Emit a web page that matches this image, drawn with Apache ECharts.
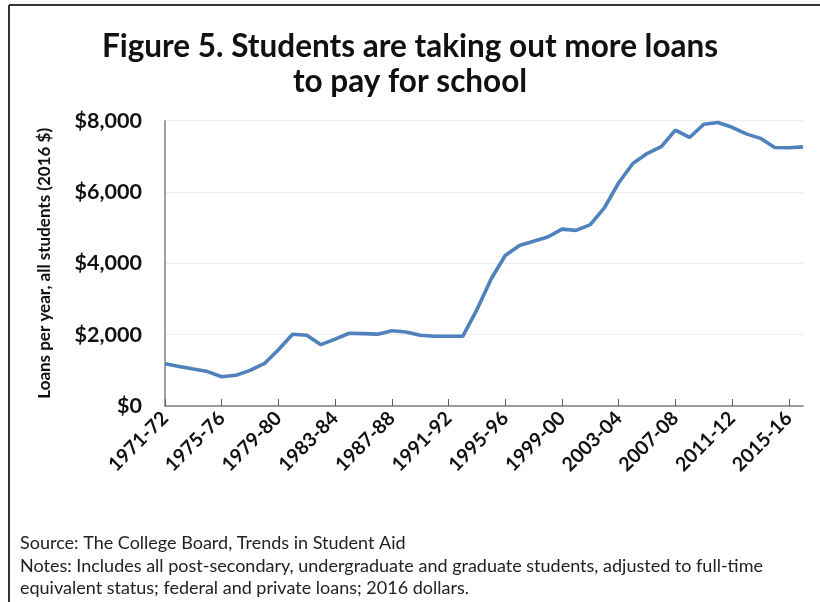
<!DOCTYPE html>
<html>
<head>
<meta charset="utf-8">
<script src="https://cdn.jsdelivr.net/npm/echarts@6/dist/echarts.min.js"></script>
<style>
  html, body { margin: 0; padding: 0; background: #fff; }
  #chart { width: 820px; height: 602px; }
</style>
</head>
<body>
<div id="chart"></div>
<script>
// Academic years 1971-72 through 2016-17
const years = [
  '1971-72','1972-73','1973-74','1974-75','1975-76','1976-77','1977-78','1978-79',
  '1979-80','1980-81','1981-82','1982-83','1983-84','1984-85','1985-86','1986-87',
  '1987-88','1988-89','1989-90','1990-91','1991-92','1992-93','1993-94','1994-95',
  '1995-96','1996-97','1997-98','1998-99','1999-00','2000-01','2001-02','2002-03',
  '2003-04','2004-05','2005-06','2006-07','2007-08','2008-09','2009-10','2010-11',
  '2011-12','2012-13','2013-14','2014-15','2015-16','2016-17'
];

// Loans per year per student, 2016 dollars
const loansPerStudent = [
  1185, 1110, 1035, 965, 820, 860, 1000, 1185,
  1575, 2010, 1985, 1720, 1875, 2040, 2030, 2015,
  2110, 2075, 1985, 1955, 1955, 1955, 2700, 3560,
  4220, 4500, 4620, 4740, 4960, 4925, 5085, 5560,
  6260, 6800, 7080, 7270, 7735, 7530, 7900, 7950,
  7815, 7630, 7505, 7250, 7240, 7265
];

const yTicks = [0, 2000, 4000, 6000, 8000];

const FONT = 'Lato';

const chart = echarts.init(document.getElementById('chart'), null, { renderer: 'canvas' });

chart.setOption({
  backgroundColor: '#ffffff',
  animation: false,
  title: {
    text: 'Figure 5. Students are taking out more loans\nto pay for school',
    left: 'center',
    top: 24,
    textStyle: {
      fontFamily: FONT,
      fontWeight: 'bold',
      fontSize: 31.5,
      lineHeight: 35,
      color: '#111'
    }
  },
  grid: {
    left: 165,
    right: 17,
    top: 120.7,
    bottom: 196,
    containLabel: false
  },
  xAxis: {
    type: 'category',
    data: years,
    boundaryGap: false,
    axisLine: { lineStyle: { color: '#808080', width: 1.5 } },
    axisTick: {
      show: true,
      inside: true,
      length: 7,
      interval: 3,
      lineStyle: { color: '#606060', width: 1 }
    },
    axisLabel: {
      interval: 3,
      rotate: 45,
      margin: 9,
      fontFamily: FONT,
      fontWeight: 'bold',
      fontSize: 19.5,
      color: '#111'
    },
    splitLine: { show: false }
  },
  yAxis: {
    type: 'value',
    min: yTicks[0],
    max: yTicks[yTicks.length - 1],
    interval: 2000,
    name: 'Loans per year, all students (2016 $)',
    nameLocation: 'middle',
    nameGap: 112,
    nameRotate: 90,
    nameTextStyle: {
      fontFamily: FONT,
      fontWeight: 'bold',
      fontSize: 17,
      color: '#111'
    },
    axisLine: { show: true, lineStyle: { color: '#808080', width: 1.5 } },
    axisTick: { show: false },
    axisLabel: {
      margin: 23,
      fontFamily: FONT,
      fontWeight: 'bold',
      fontSize: 21.5,
      color: '#111',
      formatter: v => '$' + v.toLocaleString('en-US')
    },
    splitLine: { lineStyle: { color: '#ececec', width: 1 } }
  },
  series: [{
    type: 'line',
    data: loansPerStudent,
    symbol: 'none',
    smooth: false,
    lineStyle: { color: '#4F81BD', width: 3.6 }
  }],
  graphic: [
    // frame on the top and left edges
    { type: 'line', shape: { x1: 9, y1: 5, x2: 820, y2: 5 }, style: { stroke: '#333', lineWidth: 2 } },
    { type: 'line', shape: { x1: 9, y1: 5, x2: 9, y2: 602 }, style: { stroke: '#333', lineWidth: 2 } },
    {
      type: 'text',
      left: 20,
      top: 532,
      style: {
        text: 'Source: The College Board, Trends in Student Aid\nNotes: Includes all post-secondary, undergraduate and graduate students, adjusted to full-time\nequivalent status; federal and private loans; 2016 dollars.',
        fontFamily: FONT,
        fontSize: 18,
        lineHeight: 22.5,
        fill: '#222'
      }
    }
  ]
});
</script>
</body>
</html>
